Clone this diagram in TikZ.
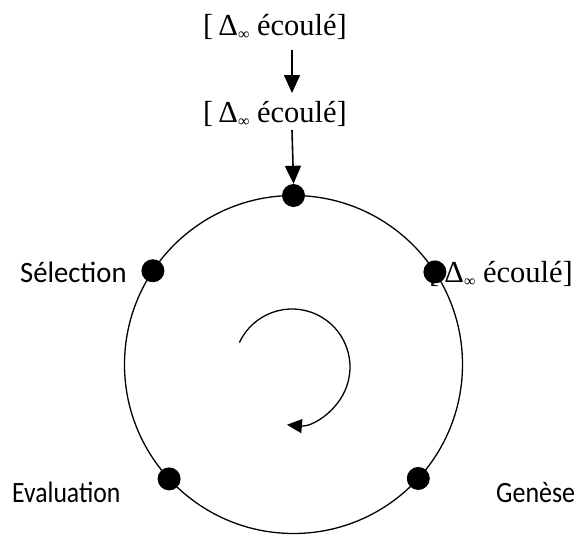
\documentclass[tikz,border=0pt]{standalone}
\usepackage{fontspec}
\setmainfont{Liberation Serif}
\newfontfamily\sansf{Carlito}
\usetikzlibrary{arrows.meta,calc}
\newcommand{\delinf}{[\,Δ\raisebox{-4pt}{\fontsize{16}{16}\selectfont ∞} écoulé]}
\begin{document}
\begin{tikzpicture}[x=1pt,y=1pt,
  serl/.style={inner sep=0pt,anchor=base west,font=\fontsize{30.5}{32}\selectfont},
  sanl/.style={inner sep=0pt,anchor=base west,font=\sansf\fontsize{29.5}{30}\selectfont},
  dot/.style={circle,fill=black,inner sep=0pt,minimum size=23pt},
  arr/.style={line width=1.6pt,-{Triangle[length=18pt,width=16pt]}}]
\useasboundingbox (0,0) rectangle (584,-536);
\coordinate (c) at (293.5,-364.5);
\draw[line width=1.3pt] (c) circle[radius=169];
% labels
\node[serl] (t1) at (203,-35) {\delinf};
\node[serl] (t2) at (203,-122) {\delinf};
\node[serl] (t3) at (429,-282) {\delinf};
\node[sanl] (sel) at (20,-282) {\scalebox{0.97}[1]{Sélection}};
\node[sanl] (eva) at (12,-502) {\scalebox{0.87}[1]{Evaluation}};
\node[sanl] (gen) at (496,-502) {\scalebox{0.88}[1]{Genèse}};
% dots
\node[dot] (dtop) at ($(c)+(90:169)$) {};
\node[dot] (dsel) at ($(c)+(146.3:169)$) {};
\node[dot] (dr) at ($(c)+(33.2:169)$) {};
\node[dot] (deva) at ($(c)+(222.6:169)$) {};
\node[dot] (dgen) at ($(c)+(-42.4:169)$) {};
% arrows
\coordinate (a1s) at (292,-50);
\coordinate (a1e) at (292,-93);
\coordinate (a2s) at (292,-130);
\draw[arr] (a1s) -- (a1e);
\draw[arr] (a2s) -- (dtop.north);
% central cycle arrow
\coordinate (cc) at (292,-367);
\draw[line width=1.3pt,-{Triangle[length=15pt,width=14pt]}] ($(cc)+(155:58)$) arc[start angle=155,end angle=-95,radius=58];
\end{tikzpicture}
\end{document}
